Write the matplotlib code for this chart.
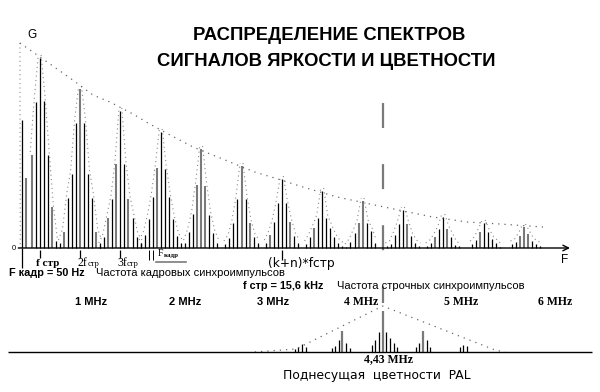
import matplotlib
matplotlib.use("Agg")
import matplotlib.pyplot as plt
from matplotlib import font_manager
import numpy as np

# ---------------- data ----------------
# line-frequency harmonics k*f_str of the luminance spectrum
harmonics = [1, 2, 3, 4, 5, 6, 7, 8, 9, 10, 11, 12, 13]
# frame-frequency side lines n = -5..+5 around each harmonic
sideband_n = [-5, -4, -3, -2, -1, 0, 1, 2, 3, 4, 5]
luma_heights = [
    [0, 0, 0, 93, 146, 190, 147, 93, 41, 7, 0],
    [5, 16, 50, 74, 125, 159, 125, 74, 50, 16, 5],
    [2, 11, 30, 49, 84, 137, 84, 49, 30, 11, 5],
    [5, 13, 29, 51, 80, 116, 79, 51, 29, 12, 5],
    [0, 5, 16, 34, 63, 99, 62, 33, 15, 5, 0],
    [0, 4, 10, 25, 49, 82, 49, 25, 11, 5, 0],
    [0, 5, 13, 26, 45, 69, 45, 26, 12, 5, 0],
    [0, 4, 11, 20, 30, 57, 30, 20, 11, 5, 2],
    [0, 1, 6, 15, 25, 47, 25, 17, 5, 0, 0],
    [0, 2, 4, 13, 24, 38, 24, 12, 5, 2, 0],
    [0, 2, 5, 11, 19, 31, 19, 11, 3, 2, 0],
    [0, 0, 4, 8, 16, 25, 16, 9, 5, 1, 0],
    [0, 0, 4, 6, 12, 21, 14, 7, 4, 2, 0],
]
# low-frequency (near DC) frame lines
dc_n = [1, 2]
dc_heights = [128, 70]
# dotted upper envelope of the luminance spectrum
envelope_x = [0.51, 0.76, 1.255, 1.75, 2.32, 2.74, 3.31, 3.68, 4.23, 4.80, 5.47,
              6.33, 6.90, 7.52, 8.37, 9.18, 10.13, 10.74, 11.59, 12.40, 13.47]
envelope_h = [205, 198, 184, 170, 153, 146, 134, 125, 113, 101, 90,
              76, 69, 61, 51, 44, 36, 31, 26, 24, 21]
# PAL chroma subcarrier spectrum (centre between harmonics 9 and 10)
chroma_center = 9.5
chroma_groups = [-2, -1, 0, 1, 2]
chroma_n = [-3, -2, -1, 0, 1, 2, 3, 4]
chroma_heights = [
    [0, 3, 5, 8, 5, 0, 0, 0],
    [4, 6, 12, 21, 9, 4, 0, 0],
    [7, 12, 20, 41, 20, 14, 9, 5],
    [0, 5, 9, 21, 12, 5, 0, 0],
    [0, 0, 5, 7, 6, 0, 0, 0],
]
chroma_env_x = [6.33, 7.35, 9.5, 12.28, 12.53]
chroma_env_h = [0, 3, 46, 2, 0]
mhz_labels = ["1 MHz", "2 MHz", "3 MHz", "4 MHz", "5 MHz", "6 MHz"]

# ---------------- styles ----------------
bar_colors = [
    "kkkgkkkkgkk", "kgkkkgkkkgk", "kkgkgkkgkkk", "kkkkgkkkkkk",
    "kkkkgggkkkk", "kkkkkgkgkkk", "kkgkkkkgkkk", "kkkgkkkkkkk",
    "kkkkggkkkkk", "kkkkkkgkkkk", "kkkgkkgkkkk", "kkkkgkkkkkk",
    "kkkkgggkkkk",
]
GRAY = "#7a7a7a"
DOT = "#8a8a8a"
STEP = 0.1          # spacing of frame lines (harmonic units)
W, H, DPI = 600, 392, 100

SANS = "Liberation Sans"
SERIF = "Liberation Serif"

fig = plt.figure(figsize=(W / DPI, H / DPI), dpi=DPI)
fig.patch.set_facecolor("white")

PXU = 40.36   # pixels per harmonic
X0 = -0.66    # pixel of harmonic 0
def hx(px):
    return (px - X0) / PXU

ax_left_px, ax_right_px = 18.3, 570.0
base_px, top_px = 248.0, 30.0
ax = fig.add_axes([ax_left_px / W, 1 - base_px / H,
                   (ax_right_px - ax_left_px) / W, (base_px - top_px) / H])
ax.set_xlim(hx(ax_left_px), hx(ax_right_px))
ax.set_ylim(0, base_px - top_px)
ax.axis("off")
axis_x = hx(ax_left_px)

def col(c):
    return "black" if c == "k" else GRAY

# luminance bars
for k, hs, cs in zip(harmonics, luma_heights, bar_colors):
    for n, h, c in zip(sideband_n, hs, cs):
        if h <= 0:
            continue
        ax.vlines(k + n * STEP, 0, h, colors=col(c),
                  linewidth=1.5 if c == "g" else 0.9, clip_on=False)
    # dotted side envelopes of each group
    left = [(k + n * STEP - 0.035, h + 3) for n, h in zip(sideband_n, hs) if n <= 0 and h > 0]
    right = [(k + n * STEP + 0.035, h + 3) for n, h in zip(sideband_n, hs) if n >= 0 and h > 0]
    for seg in (left, right):
        xs, ys = zip(*seg)
        ax.plot(xs, ys, linestyle=(0, (1, 3)), color=DOT, linewidth=0.8, clip_on=False)

# DC lines
for n, h, c in zip(dc_n, dc_heights, "kg"):
    ax.vlines(axis_x + n * STEP, 0, h, colors=col(c), linewidth=1.5 if c == "g" else 0.9)
ax.plot([axis_x + 0.04, axis_x + 0.05], [205, 0], linestyle=(0, (1, 3)), color=DOT,
        linewidth=0.8, clip_on=False)

# upper envelope
ax.plot(envelope_x, envelope_h, linestyle=(0, (1, 4)), color="#666666",
        linewidth=0.9, clip_on=False)

# axes with arrows
ax.annotate("", xy=(axis_x, 220), xytext=(axis_x, 0),
            arrowprops=dict(arrowstyle="->", lw=1.0, color="black",
                            shrinkA=0, shrinkB=0, mutation_scale=8))
ax.annotate("", xy=(hx(ax_right_px), 0), xytext=(axis_x, 0),
            arrowprops=dict(arrowstyle="->", lw=1.0, color="black",
                            shrinkA=0, shrinkB=0, mutation_scale=10))

# ticks below the baseline
ax.vlines(axis_x + dc_n[0] * STEP, -20, 0, colors="black", lw=0.9, clip_on=False)
for k in harmonics[:3]:
    ax.vlines(k, -10, -2, colors="black", lw=0.9, clip_on=False)
ax.vlines(harmonics[6], -12, -2, colors="black", lw=0.9, clip_on=False)
fk = [harmonics[3] - 3 * STEP, harmonics[3] - 2 * STEP]
ax.vlines(fk, -12, -2, colors="black", lw=0.7, clip_on=False)
ax.annotate("", xy=(fk[0], -13), xytext=(fk[0] - 0.12, -13),
            arrowprops=dict(arrowstyle="->", lw=0.7, shrinkA=0, shrinkB=0, mutation_scale=5))
ax.annotate("", xy=(fk[1], -13), xytext=(fk[1] + 0.15, -13),
            arrowprops=dict(arrowstyle="->", lw=0.7, shrinkA=0, shrinkB=0, mutation_scale=5))
ax.plot([fk[1] + 0.08, hx(186)], [-14, -14], color=GRAY, lw=1.2, clip_on=False)

# dashed marker of the chroma subcarrier (25 px dashes, 36 px gaps)
dlw = 1.6
ax.plot([chroma_center, chroma_center], [base_px - 103, base_px - 303], color=GRAY,
        lw=dlw, linestyle=(0, (18 / dlw, 26 / dlw)), solid_capstyle="butt",
        dash_capstyle="butt", clip_on=False)

# ---------------- chroma axes ----------------
cbase_px = 352.0
ax2 = fig.add_axes([ax_left_px / W, 1 - cbase_px / H,
                    (ax_right_px - ax_left_px) / W, 60 / H])
ax2.set_xlim(hx(ax_left_px), hx(ax_right_px))
ax2.set_ylim(0, 60)
ax2.axis("off")
for m, hs in zip(chroma_groups, chroma_heights):
    for n, h in zip(chroma_n, hs):
        if h <= 0:
            continue
        c = GRAY if (n == 0 and m in (0, -1, 1)) else "black"
        ax2.vlines(chroma_center + m + n * STEP * 0.9, 0, h, colors=c,
                   linewidth=1.6 if c == GRAY else 0.9, clip_on=False)
ax2.plot(chroma_env_x, chroma_env_h, linestyle=(0, (1, 4)), color="#666666",
         linewidth=0.9, clip_on=False)
ax2.hlines(0, hx(8), hx(592), colors="black", lw=1.0, clip_on=False)

# ---------------- texts ----------------
def ftxt(xp, yp, s, **kw):
    kw.setdefault("va", "center")
    kw.setdefault("ha", "left")
    fig.text(xp / W, 1 - yp / H, s, **kw)

ftxt(329, 36, "РАСПРЕДЕЛЕНИЕ СПЕКТРОВ", ha="center", family=SANS,
     fontweight="bold", fontsize=13.3)
ftxt(326, 61, "СИГНАЛОВ ЯРКОСТИ И ЦВЕТНОСТИ", ha="center", family=SANS,
     fontweight="bold", fontsize=13.3)
ftxt(27, 35, "G", family=SANS, fontsize=8.5)
ftxt(12, 248, "0", family=SANS, fontsize=5.5)
ftxt(561, 260, "F", family=SANS, fontsize=8.5)

ftxt(36, 263, "f стр", family=SERIF, fontweight="bold", fontsize=8)
ftxt(77, 263, "2f", family=SERIF, fontsize=8.5)
ftxt(88, 264, "стр", family=SERIF, fontsize=6)
ftxt(117, 263, "3f", family=SERIF, fontsize=8.5)
ftxt(127, 264, "стр", family=SERIF, fontsize=6)
ftxt(158, 254, "F", family=SERIF, fontsize=7)
ftxt(164, 255, "кадр", family=SERIF, fontweight="bold", fontsize=5)
ftxt(268, 264, "(k+n)*fстр", family="DejaVu Sans", fontsize=8.8)

ftxt(9, 273, "F кадр = 50 Hz", family=SANS, fontweight="bold", fontsize=7.8)
ftxt(96, 273, "Частота кадровых синхроимпульсов", family=SANS, fontsize=8)
ftxt(243, 286, "f стр = 15,6 kHz", family=SANS, fontweight="bold", fontsize=7.8)
ftxt(337, 286, "Частота строчных синхроимпульсов", family=SANS, fontsize=8)

mhz_px = [91, 185, 273, 361, 461, 555]
for i, (s, xp) in enumerate(zip(mhz_labels, mhz_px)):
    if i < 3:
        ftxt(xp, 302, s, ha="center", family=SANS, fontweight="bold", fontsize=8)
    else:
        ftxt(xp, 302, s, ha="center", family=SERIF, fontweight="bold", fontsize=8.5)

ftxt(389, 359, "4,43 MHz", ha="center", family=SERIF, fontweight="bold", fontsize=8.5)
ftxt(283, 376, "Поднесущая  цветности  PAL", family="DejaVu Sans", fontsize=8.9)

fig.savefig("out.png", dpi=DPI, facecolor="white")
